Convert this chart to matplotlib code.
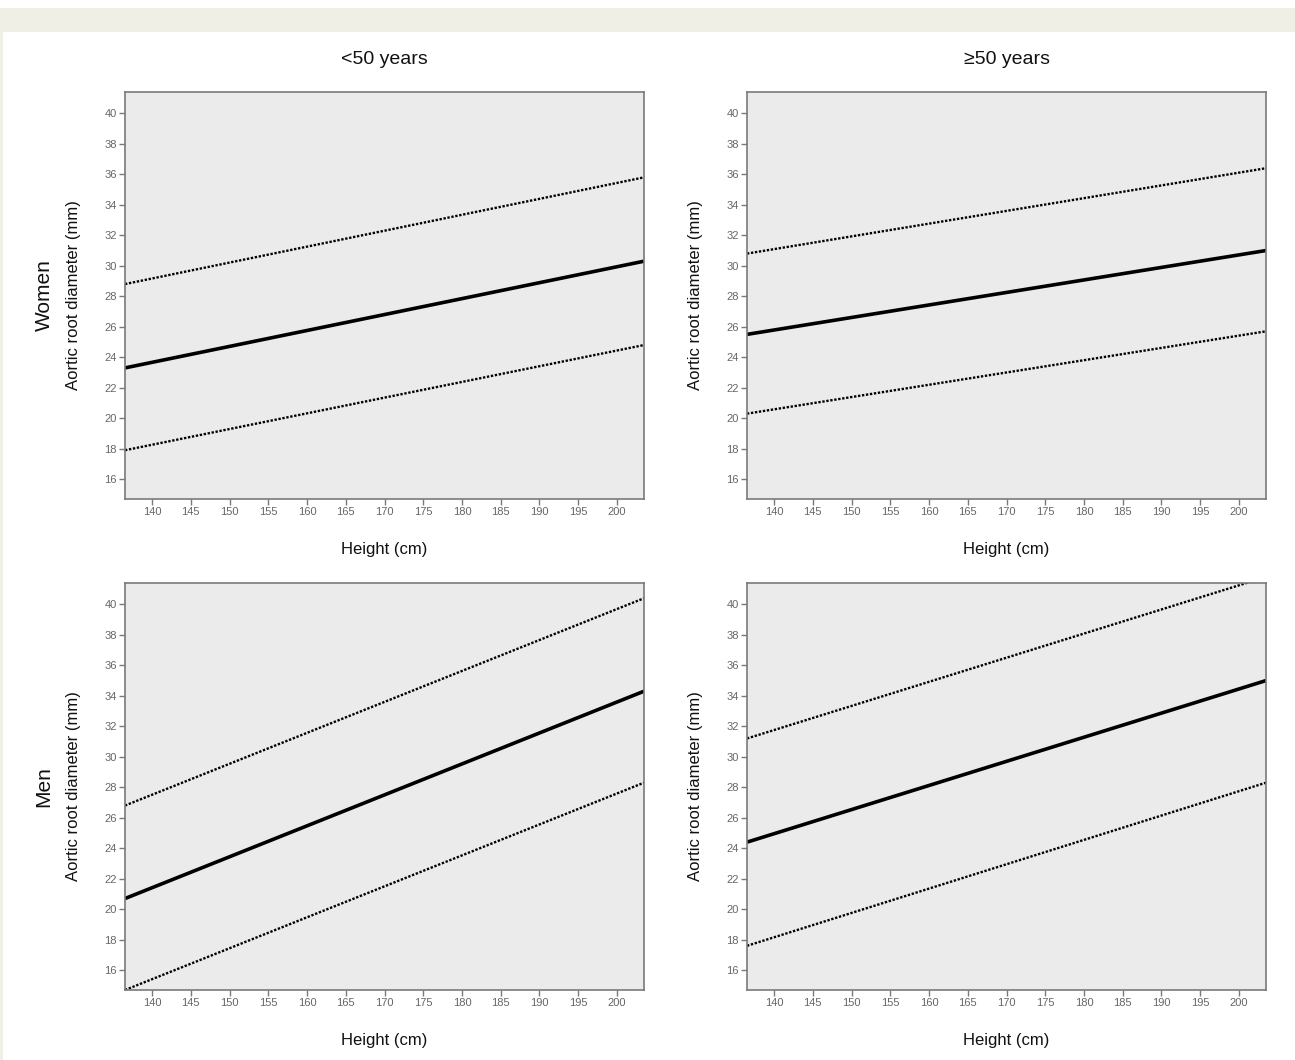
import matplotlib
matplotlib.use('Agg')
import matplotlib.pyplot as plt
from matplotlib.patches import Rectangle

plt.rcParams['font.family'] = ['Liberation Sans', 'DejaVu Sans']

# Height range (cm) over which the regression lines are drawn
height = [136.5, 203.5]

# Aortic root diameter (mm) at the two ends of the height range
# women <50 years
w_young_upper = [28.8, 35.8]
w_young_mean = [23.3, 30.3]
w_young_lower = [17.9, 24.8]
# women >=50 years
w_old_upper = [30.8, 36.4]
w_old_mean = [25.5, 31.0]
w_old_lower = [20.3, 25.7]
# men <50 years
m_young_upper = [26.8, 40.4]
m_young_mean = [20.7, 34.3]
m_young_lower = [14.7, 28.3]
# men >=50 years
m_old_upper = [31.2, 41.8]
m_old_mean = [24.4, 35.0]
m_old_lower = [17.6, 28.3]

col_titles = ['<50 years', '\u226550 years']
row_titles = ['Women', 'Men']
xticks = list(range(140, 201, 5))
yticks = list(range(16, 41, 2))

panels = [
    [(w_young_upper, w_young_mean, w_young_lower), (w_old_upper, w_old_mean, w_old_lower)],
    [(m_young_upper, m_young_mean, m_young_lower), (m_old_upper, m_old_mean, m_old_lower)],
]

W, H = 1295, 1060
fig = plt.figure(figsize=(W / 100, H / 100), dpi=100)
fig.patch.set_facecolor('white')

# beige frame band at the top and left edge
fig.patches.append(Rectangle((0, 1 - 32 / H), 1, 24 / H, transform=fig.transFigure,
                             facecolor='#efefe5', edgecolor='none', zorder=0))
fig.patches.append(Rectangle((0, 0), 3 / W, 1 - 32 / H, transform=fig.transFigure,
                             facecolor='#efefe5', edgecolor='none', zorder=0))

lefts = [125, 747]
tops = [92, 583]
aw, ah = 519, 407
spine_col = '#7a7a7a'

for r in range(2):
    for c in range(2):
        ax = fig.add_axes([lefts[c] / W, 1 - (tops[r] + ah) / H, aw / W, ah / H])
        ax.set_facecolor('#ebebeb')
        up, mean, low = panels[r][c]
        ax.plot(height, up, color='black', lw=1.7, linestyle=(0, (1, 0.7)))
        ax.plot(height, mean, color='black', lw=2.6, solid_capstyle='butt')
        ax.plot(height, low, color='black', lw=1.7, linestyle=(0, (1, 0.7)))
        ax.set_xlim(136.5, 203.5)
        ax.set_ylim(14.7, 41.4)
        ax.set_xticks(xticks)
        ax.set_yticks(yticks)
        ax.tick_params(direction='out', length=4, width=1, colors=spine_col,
                       labelsize=8, labelcolor='#666666', pad=2)
        for s in ax.spines.values():
            s.set_color(spine_col)
            s.set_linewidth(1.2)
        ax.set_xlabel('Height (cm)', fontsize=12, labelpad=18, color='#111111')
        ax.set_ylabel('Aortic root diameter (mm)', fontsize=12, labelpad=17, color='#111111')

for c in range(2):
    fig.text((lefts[c] + aw / 2) / W, 1 - 60 / H, col_titles[c], ha='center', va='center',
             fontsize=14, color='#111111')
for r in range(2):
    fig.text(44 / W, 1 - (tops[r] + ah / 2) / H, row_titles[r], ha='center', va='center',
             rotation=90, fontsize=15, color='#111111')

fig.savefig('out.png', dpi=100)
